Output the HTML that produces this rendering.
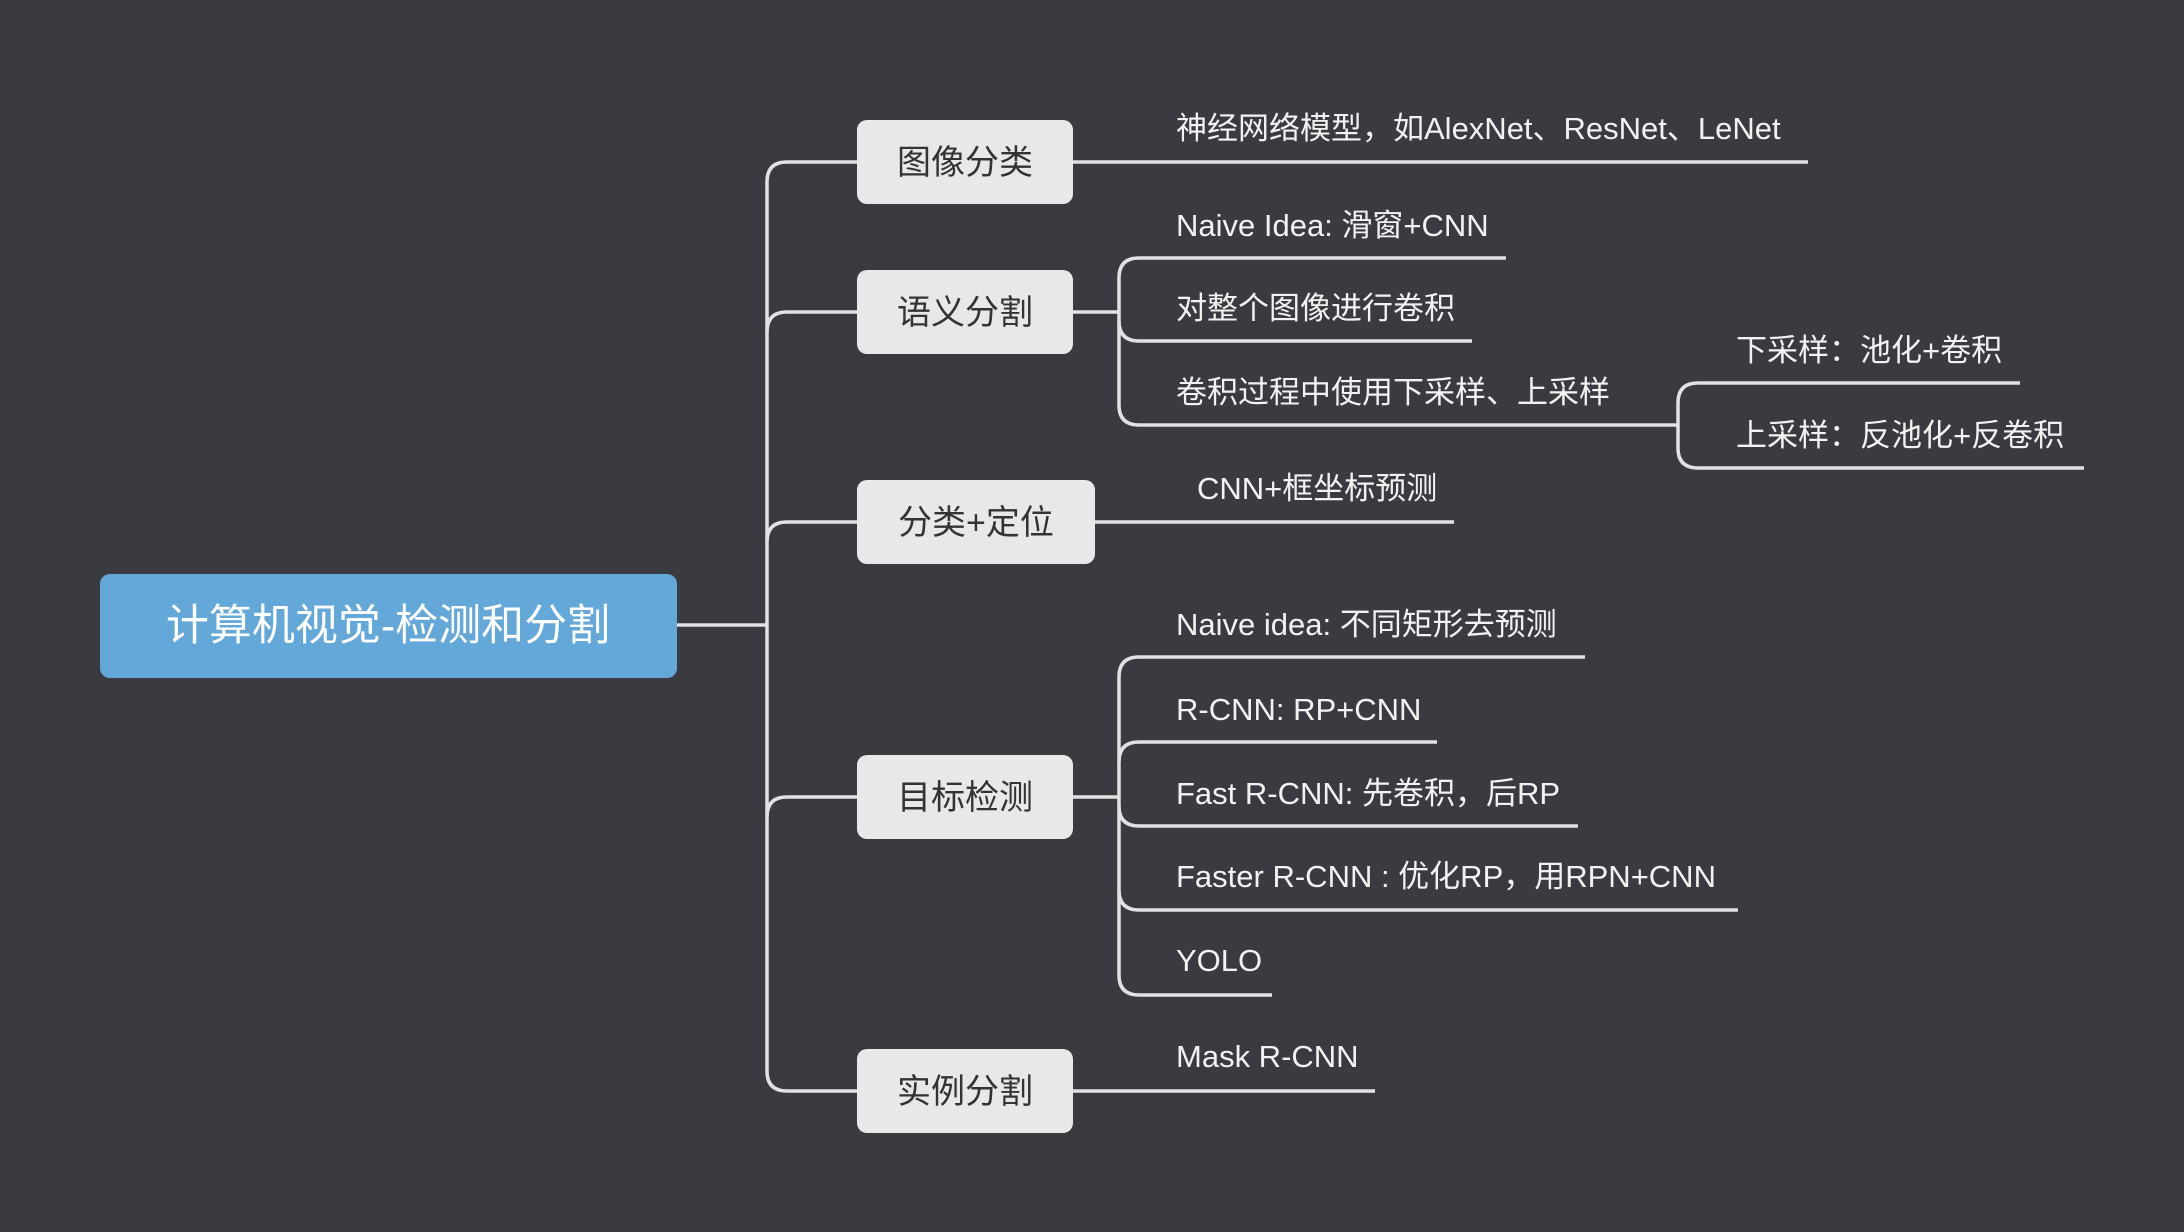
<!DOCTYPE html>
<html><head><meta charset="utf-8"><style>
html,body{margin:0;padding:0;background:#3a3b41;}
svg{display:block}
text{font-family:"Liberation Sans","Noto Sans CJK SC",sans-serif;}
.l{fill:#f2f2f2;font-size:31px}
.c{fill:#333;font-size:34px}
</style></head><body>
<svg width="2184" height="1232" viewBox="0 0 2184 1232" xmlns="http://www.w3.org/2000/svg">
<rect width="2184" height="1232" fill="#3a3b41"/>
<g fill="none" stroke="#e2e2e2" stroke-width="3.5">
<path d="M677 625 H767"/>
<path d="M857 162 H787 Q767 162 767 182 V1071 Q767 1091 787 1091 H857"/>
<path d="M767 332 Q767 312 787 312 H857"/>
<path d="M767 542 Q767 522 787 522 H857"/>
<path d="M767 817 Q767 797 787 797 H857"/>
<path d="M1073 162 H1808"/>
<path d="M1073 312 H1119"/>
<path d="M1506 258 H1139 Q1119 258 1119 278 V405 Q1119 425 1139 425 H1678"/>
<path d="M1119 321 Q1119 341 1139 341 H1472"/>
<path d="M1678 425 V403 Q1678 383 1698 383 H2020"/>
<path d="M1678 425 V448 Q1678 468 1698 468 H2084"/>
<path d="M1095 522 H1454"/>
<path d="M1073 797 H1119"/>
<path d="M1585 657 H1139 Q1119 657 1119 677 V975 Q1119 995 1139 995 H1272"/>
<path d="M1119 762 Q1119 742 1139 742 H1437"/>
<path d="M1119 806 Q1119 826 1139 826 H1578"/>
<path d="M1119 890 Q1119 910 1139 910 H1738"/>
<path d="M1073 1091 H1375"/>
</g>
<rect x="100" y="574" width="577" height="104" rx="10" fill="#64a8da"/>
<text x="388" y="640" text-anchor="middle" fill="#fff" font-size="43">计算机视觉-检测和分割</text>
<g fill="#e8e8e8">
<rect x="857" y="120" width="216" height="84" rx="10"/>
<rect x="857" y="270" width="216" height="84" rx="10"/>
<rect x="857" y="480" width="238" height="84" rx="10"/>
<rect x="857" y="755" width="216" height="84" rx="10"/>
<rect x="857" y="1049" width="216" height="84" rx="10"/>
</g>
<text class="c" x="965" y="174" text-anchor="middle">图像分类</text>
<text class="c" x="965" y="324" text-anchor="middle">语义分割</text>
<text class="c" x="976" y="534" text-anchor="middle">分类+定位</text>
<text class="c" x="965" y="809" text-anchor="middle">目标检测</text>
<text class="c" x="965" y="1103" text-anchor="middle">实例分割</text>
<text class="l" x="1176" y="139">神经网络模型，如AlexNet、ResNet、LeNet</text>
<text class="l" x="1176" y="236">Naive Idea: 滑窗+CNN</text>
<text class="l" x="1176" y="319">对整个图像进行卷积</text>
<text class="l" x="1176" y="403">卷积过程中使用下采样、上采样</text>
<text class="l" x="1736" y="361">下采样：池化+卷积</text>
<text class="l" x="1736" y="446">上采样：反池化+反卷积</text>
<text class="l" x="1197" y="499">CNN+框坐标预测</text>
<text class="l" x="1176" y="635">Naive idea:  不同矩形去预测</text>
<text class="l" x="1176" y="720">R-CNN: RP+CNN</text>
<text class="l" x="1176" y="804">Fast R-CNN: 先卷积，后RP</text>
<text class="l" x="1176" y="887">Faster R-CNN : 优化RP，用RPN+CNN</text>
<text class="l" x="1176" y="971">YOLO</text>
<text class="l" x="1176" y="1067">Mask R-CNN</text>
</svg>
</body></html>
